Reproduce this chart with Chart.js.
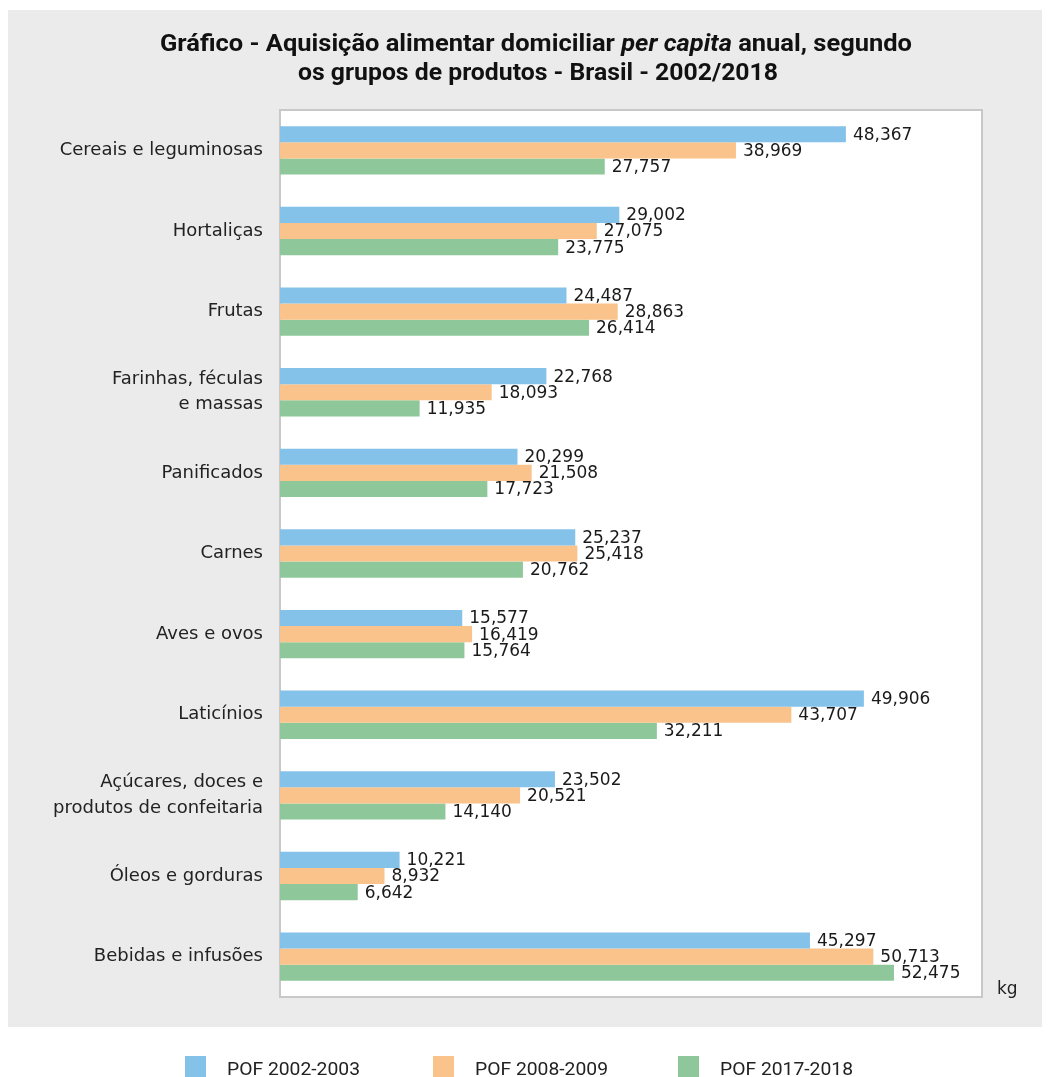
<!DOCTYPE html>
<html>
<head>
<meta charset="utf-8">
<script src="https://cdn.jsdelivr.net/npm/chart.js@4.4.1/dist/chart.umd.min.js"></script>
<style>
  html, body { margin: 0; padding: 0; background: #fff; }
  #wrap { width: 1051px; height: 1077px; position: relative; }
</style>
</head>
<body>
<div id="wrap"><canvas id="chart"></canvas></div>
<script>
const categories = [
    'Cereais e leguminosas', 'Hortaliças', 'Frutas', ['Farinhas, féculas', 'e massas'],
    'Panificados', 'Carnes', 'Aves e ovos', 'Laticínios',
    ['Açúcares, doces e', 'produtos de confeitaria'], 'Óleos e gorduras', 'Bebidas e infusões'
];
const seriesNames = ['POF 2002-2003', 'POF 2008-2009', 'POF 2017-2018'];
const pof2002 = [48.367, 29.002, 24.487, 22.768, 20.299, 25.237, 15.577, 49.906, 23.502, 10.221, 45.297];
const pof2008 = [38.969, 27.075, 28.863, 18.093, 21.508, 25.418, 16.419, 43.707, 20.521, 8.932, 50.713];
const pof2017 = [27.757, 23.775, 26.414, 11.935, 17.723, 20.762, 15.764, 32.211, 14.140, 6.642, 52.475];
const colors = ['#85C2EA', '#F9C38B', '#8EC89A'];

const FONT = 'Roboto, "Liberation Sans", sans-serif';
const BODY = '"DejaVu Sans", sans-serif';

// fit text to a width by squeezing it horizontally (the original uses a condensed face)
function drawSqueezed(ctx, text, x, y, width) {
    const w = ctx.measureText(text).width;
    ctx.save();
    ctx.translate(x, y);
    ctx.scale(width / w, 1);
    ctx.fillText(text, 0, 0);
    ctx.restore();
}

const framePlugin = {
    id: 'frame',
    beforeDraw(chart) {
        const { ctx, chartArea: a } = chart;
        ctx.save();
        ctx.fillStyle = '#ebebeb';
        ctx.fillRect(8, 10, 1034, 1017);
        ctx.fillStyle = '#fff';
        ctx.fillRect(a.left, a.top, a.right - a.left, a.bottom - a.top);
        ctx.strokeStyle = '#c8c8c8';
        ctx.lineWidth = 2;
        ctx.strokeRect(a.left, a.top, a.right - a.left, a.bottom - a.top);
        ctx.restore();
    },
    afterDraw(chart) {
        const { ctx } = chart;
        ctx.save();
        // title, with "per capita" in italic
        ctx.fillStyle = '#111';
        ctx.textBaseline = 'alphabetic';
        const parts = [['Gráfico - Aquisição alimentar domiciliar ', 'bold'], ['per capita', 'italic bold'], [' anual, segundo', 'bold']];
        let total = 0;
        parts.forEach(p => { ctx.font = `${p[1]} 23px ${FONT}`; p.push(ctx.measureText(p[0]).width); total += p[2]; });
        const sx = 752 / total;
        let x = 160;
        parts.forEach(p => {
            ctx.font = `${p[1]} 23px ${FONT}`;
            drawSqueezed(ctx, p[0], x, 51, p[2] * sx);
            x += p[2] * sx;
        });
        ctx.font = `bold 23px ${FONT}`;
        drawSqueezed(ctx, 'os grupos de produtos - Brasil - 2002/2018', 298, 80, 480);

        // unit
        ctx.font = `17px ${BODY}`;
        ctx.fillStyle = '#222';
        ctx.fillText('kg', 997, 994);

        // legend
        const lx = [185, 433, 678];
        ctx.font = `19px ${FONT}`;
        chart.data.datasets.forEach((ds, i) => {
            ctx.fillStyle = ds.backgroundColor;
            ctx.fillRect(lx[i], 1056, 21, 21);
            ctx.fillStyle = '#222';
            drawSqueezed(ctx, ds.label, lx[i] + 42, 1075, 133);
        });
        ctx.restore();
    },
    afterDatasetsDraw(chart) {
        const { ctx } = chart;
        ctx.save();
        ctx.font = `17px ${BODY}`;
        ctx.fillStyle = '#1a1a1a';
        ctx.textBaseline = 'middle';
        chart.data.datasets.forEach((ds, i) => {
            chart.getDatasetMeta(i).data.forEach((bar, j) => {
                const txt = ds.data[j].toFixed(3).replace('.', ',');
                ctx.fillText(txt, bar.x + 7, bar.y + 1);
            });
        });
        ctx.restore();
    }
};

new Chart(document.getElementById('chart'), {
    type: 'bar',
    data: {
        labels: categories,
        datasets: [pof2002, pof2008, pof2017].map((d, i) => ({
            label: seriesNames[i],
            data: d,
            backgroundColor: colors[i],
            borderWidth: 0,
            barPercentage: 1,
            categoryPercentage: 0.6
        }))
    },
    options: {
        indexAxis: 'y',
        responsive: true,
        maintainAspectRatio: false,
        animation: false,
        layout: { padding: { left: 8, top: 110, right: 69, bottom: 80 } },
        plugins: { legend: { display: false }, title: { display: false }, tooltip: { enabled: false } },
        scales: {
            x: { display: false, min: 0, max: 60 },
            y: {
                grid: { display: false, drawTicks: false },
                border: { display: false },
                afterFit: s => { s.width = 272; },
                ticks: {
                    padding: 17,
                    color: '#222',
                    font: { family: BODY, size: 18, lineHeight: 1.4 }
                }
            }
        }
    },
    plugins: [framePlugin]
});
</script>
</body>
</html>
